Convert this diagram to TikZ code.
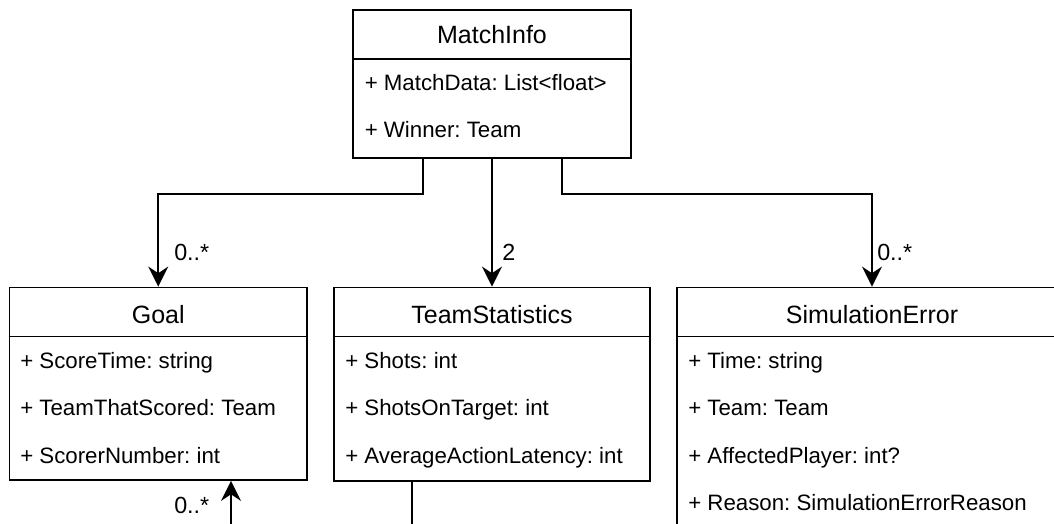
\documentclass[tikz,border=0pt]{standalone}
\usepackage{fontspec}
\setmainfont{Liberation Sans}
\usetikzlibrary{arrows.meta,fit}
\frenchspacing
\begin{document}
\begin{tikzpicture}[x=0.75pt,y=-0.75pt,
  classbox/.style={draw, line width=1.4pt, inner sep=0pt},
  divider/.style={line width=1pt},
  attr/.style={anchor=base west, inner sep=0pt, font=\fontsize{16.7}{20}\selectfont},
  classname/.style={anchor=base, inner sep=0pt, font=\fontsize{18.75}{22}\selectfont},
  mult/.style={anchor=base west, inner sep=0pt, font=\fontsize{17.5}{21}\selectfont},
  assoc/.style={line width=1.4pt, -{Stealth[length=15pt,width=15pt,inset=5pt]}},
  plainline/.style={line width=1.4pt}
]
\useasboundingbox (0,0) rectangle (1054,524);
\clip (0,0) rectangle (1054,524);

% class boxes
\node[classbox, fit={(353,10)(631,158)}] (match) {};
\node[classbox, fit={(9.5,287.5)(307,480)}] (goal) {};
\node[classbox, fit={(334,287.5)(650,481)}] (stats) {};
\node[classbox, fit={(677,287.5)(1067,534)}] (simerr) {};

% header dividers
\draw[divider] (match.west |- 0,59) -- (match.east |- 0,59);
\draw[divider] (goal.west |- 0,336.5) -- (goal.east |- 0,336.5);
\draw[divider] (stats.west |- 0,336.5) -- (stats.east |- 0,336.5);
\draw[divider] (simerr.west |- 0,336.5) -- (simerr.east |- 0,336.5);

% MatchInfo
\node[classname] (matchT) at (match.center |- 0,44) {MatchInfo};
\node[attr] (matchA1) at (364.5,90.5) {+ MatchData: List<float>};
\node[attr] (matchA2) at (364.5,138) {+ Winner: Team};

% Goal
\node[classname] (goalT) at (goal.center |- 0,323) {Goal};
\node[attr] (goalA1) at (20,368.5) {+ ScoreTime: string};
\node[attr] (goalA2) at (20,415.5) {+ TeamThatScored: Team};
\node[attr] (goalA3) at (20,463) {+ ScorerNumber: int};

% TeamStatistics
\node[classname] (statsT) at (stats.center |- 0,323) {TeamStatistics};
\node[attr] (statsA1) at (345,368.5) {+ Shots: int};
\node[attr] (statsA2) at (345,415.5) {+ ShotsOnTarget: int};
\node[attr] (statsA3) at (345,463) {+ AverageActionLatency: int};

% SimulationError
\node[classname] (simerrT) at (simerr.center |- 0,323) {SimulationError};
\node[attr] (simerrA1) at (688,368.5) {+ Time: string};
\node[attr] (simerrA2) at (688,415.5) {+ Team: Team};
\node[attr] (simerrA3) at (688,463) {+ AffectedPlayer: int?};
\node[attr] (simerrA4) at (688,510.5) {+ Reason: SimulationErrorReason};

% associations
\coordinate (bendL) at (423,194);
\coordinate (bendR) at (562,194);
\draw[assoc] (match.south -| bendL) -- (bendL) -| (goal.north);
\draw[assoc] (match.south) -- (stats.north);
\draw[assoc] (match.south -| bendR) -- (bendR) -| (simerr.north);

\coordinate (goalIn) at (231,540);
\draw[assoc] (goalIn) -- (goal.south -| goalIn);
\coordinate (statsOut) at (412,540);
\draw[plainline] (stats.south -| statsOut) -- (statsOut);

% multiplicities
\node[mult] (mGoal) at (174,260.5) {0..*};
\node[mult] (mStats) at (502,260.5) {2};
\node[mult] (mSimerr) at (877,260.5) {0..*};
\node[mult] (mGoalIn) at (174,513) {0..*};
\end{tikzpicture}
\end{document}
